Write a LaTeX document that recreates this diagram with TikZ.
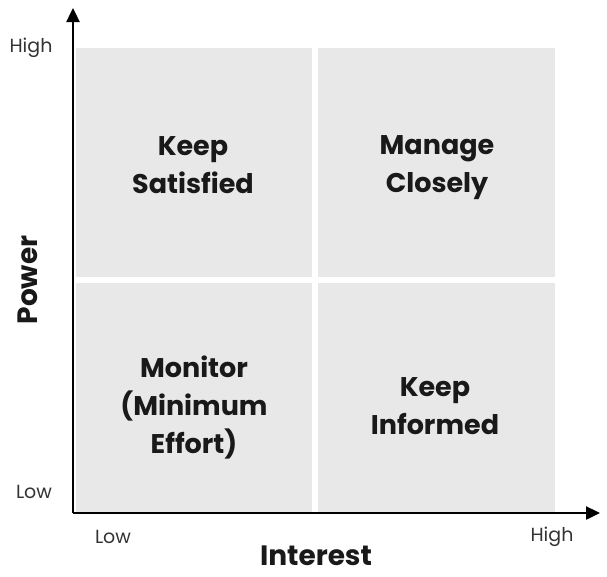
\documentclass[tikz,border=0pt]{standalone}
\usepackage{fontspec}
\setmainfont{Poppins}
\usetikzlibrary{arrows.meta}
\definecolor{quad}{HTML}{E8E8E8}
\begin{document}
\begin{tikzpicture}[x=1pt,y=-1pt,
  quadbox/.style={fill=quad,draw=none},
  qtext/.style={align=center,font=\fontsize{27}{38}\selectfont\bfseries,text=black!90},
  tick/.style={font=\fontsize{19}{22}\selectfont,text=black!80},
  axlabel/.style={font=\fontsize{28}{32}\selectfont\bfseries,text=black!90},
  axis/.style={line width=2.4pt,-{Triangle[length=14pt,width=13pt]}}]
\useasboundingbox (0,0) rectangle (607,576);
\fill[quadbox] (76,48) rectangle (312,277);
\fill[quadbox] (318,48) rectangle (555,277);
\fill[quadbox] (76,283) rectangle (312,512);
\fill[quadbox] (318,283) rectangle (555,512);
\coordinate (o) at (73,513);
\coordinate (ytop) at (73,8);
\coordinate (xend) at (600,513);
\draw[axis] (o) -- (ytop);
\draw[axis] (o) -- (xend);
\node[qtext] (ks) at (193,165) {Keep\\Satisfied};
\node[qtext] (mc) at (437,168) {Manage\\Closely};
\node[qtext] (mo) at (194,407) {Monitor\\(Minimum\\Effort)};
\node[qtext] (ki) at (435,406) {Keep\\Informed};
\node[tick] (yh) at (31,48) {High};
\node[tick] (yl) at (34,492) {Low};
\node[tick] (xl) at (113,537) {Low};
\node[tick] (xh) at (552,537) {High};
\node[axlabel,rotate=90] (pw) at (28,280) {Power};
\node[axlabel] (it) at (316,556) {Interest};
\end{tikzpicture}
\end{document}
